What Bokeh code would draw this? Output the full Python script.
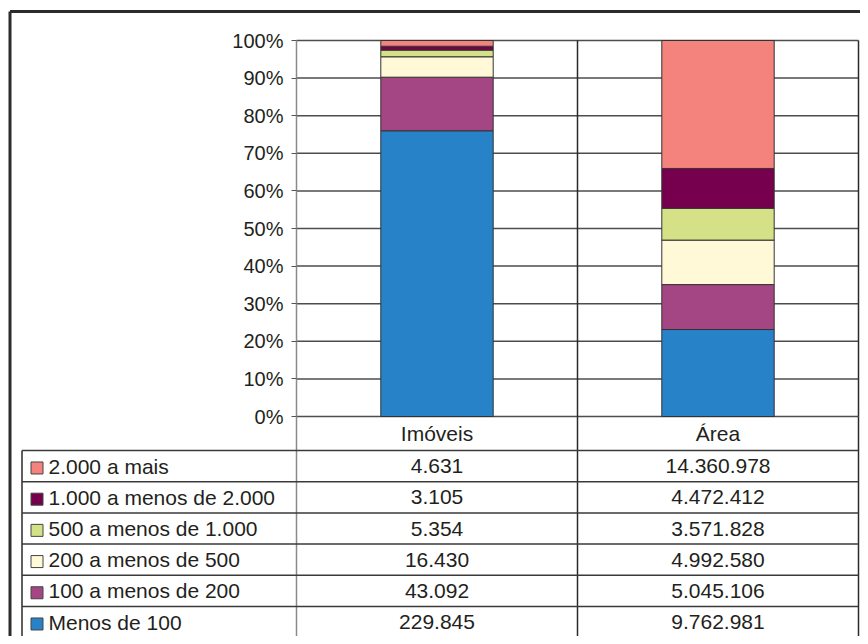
from bokeh.plotting import figure
from bokeh.models import ColumnDataSource, Range1d, LinearAxis, FixedTicker, PrintfTickFormatter
from bokeh.core.properties import value
from bokeh.embed import file_html
from bokeh.resources import INLINE

# ---------------- data ----------------
CATEGORIES = ["Imóveis", "Área"]
SERIES = ["Menos de 100", "100 a menos de 200", "200 a menos de 500",
          "500 a menos de 1.000", "1.000 a menos de 2.000", "2.000 a mais"]
IMOVEIS = [229845, 43092, 16430, 5354, 3105, 4631]
AREA = [9762981, 5045106, 4992580, 3571828, 4472412, 14360978]
COLORS = ["#2882c8", "#a44684", "#fff9d8", "#d4e186", "#76004d", "#f4837d"]
TICKS = [0, 10, 20, 30, 40, 50, 60, 70, 80, 90, 100]

# ---------------- layout (canvas pixels) ----------------
W, H = 860, 636
PLOT_L, CAT_W = 296.0, 281.0
Y0, PX_PCT = 416.0, 3.76
ROW_TOP, ROW_H = 450.0, 31.2
FONT = "Liberation Sans"
TXT = "#231f20"


def fx(px):
    return (px - PLOT_L) / CAT_W


def fy(py):
    return (Y0 - py) / PX_PCT


def ft(py):
    return (ROW_TOP - py) / ROW_H


p = figure(width=W, height=H, output_backend="svg", toolbar_location=None,
           x_axis_type=None, y_axis_type=None,
           x_range=Range1d(fx(0), fx(W)), y_range=Range1d(fy(H), fy(0)),
           min_border=0, outline_line_color=None,
           background_fill_color="white", border_fill_color="white")
p.extra_y_ranges = {"tbl": Range1d(ft(H), ft(0))}

ncat = len(CATEGORIES)
cols = [IMOVEIS, AREA]

# gridlines
p.segment(x0=0, x1=ncat, y0=TICKS, y1=TICKS, line_color="#4d4d4d", line_width=1.5)
# category separators in chart
p.segment(x0=list(range(1, ncat + 1)), x1=list(range(1, ncat + 1)), y0=0, y1=100,
          line_color="#2a2a2a", line_width=1.5)

# stacked bars (percent)
data = {"x": [i + 0.5 for i in range(ncat)]}
keys = []
for k in range(len(SERIES)):
    key = "s%d" % k
    keys.append(key)
    data[key] = [100.0 * cols[c][k] / sum(cols[c]) for c in range(ncat)]
src = ColumnDataSource(data)
p.vbar_stack(keys, x="x", width=0.4, color=COLORS, line_color="#333333",
             line_width=1, source=src)

# y axis
yaxis = LinearAxis(fixed_location=0, bounds=(0, 100),
                   ticker=FixedTicker(ticks=TICKS),
                   formatter=PrintfTickFormatter(format="%d%%"),
                   major_label_text_font_size="20px",
                   major_label_text_font=FONT,
                   major_label_text_color=TXT,
                   major_tick_out=5, major_tick_in=0,
                   major_tick_line_color="#555555",
                   minor_tick_line_color=None,
                   axis_line_color="#8a8a8a", axis_line_width=1.5,
                   major_label_standoff=8)
p.add_layout(yaxis, "left")

# ---------------- table ----------------
nrow = len(SERIES)
hdr_top = ft(Y0)
# vertical lines
p.segment(x0=[0] + list(range(1, ncat + 1)), x1=[0] + list(range(1, ncat + 1)),
          y0=hdr_top, y1=-nrow,
          line_color=["#8a8a8a"] + ["#2a2a2a"] * ncat, line_width=1.5,
          y_range_name="tbl")
p.segment(x0=fx(21.5), x1=fx(21.5), y0=0, y1=-nrow,
          line_color="#2a2a2a", line_width=1.5, y_range_name="tbl")
# horizontal lines
hl = [-r for r in range(nrow + 1)]
p.segment(x0=fx(21.5), x1=ncat, y0=hl, y1=hl, line_color="#3a3a3a",
          line_width=1.5, y_range_name="tbl")

# header labels
p.text(x=[i + 0.5 for i in range(ncat)], y=[ft(433)] * ncat, text=CATEGORIES,
       text_font=value(FONT), text_font_size="21px", text_color=TXT,
       text_align="center", text_baseline="middle", y_range_name="tbl")

rows_series = list(reversed(SERIES))
rows_colors = list(reversed(COLORS))
ycent = [-r - 0.5 for r in range(nrow)]
p.scatter(x=[fx(36.5)] * nrow, y=[y - 0.06 for y in ycent], marker="square",
          size=12, fill_color=rows_colors, line_color="#444444", line_width=1,
          y_range_name="tbl")
p.text(x=[fx(48)] * nrow, y=ycent, text=rows_series,
       text_font=value(FONT), text_font_size="21px", text_color=TXT,
       text_align="left", text_baseline="middle", y_range_name="tbl")


def fmt(v):
    return "{:,}".format(v).replace(",", ".")


for c in range(ncat):
    vals = list(reversed(cols[c]))
    p.text(x=[c + 0.5] * nrow, y=ycent, text=[fmt(v) for v in vals],
           text_font=value(FONT), text_font_size="21px", text_color=TXT,
           text_align="center", text_baseline="middle", y_range_name="tbl")

# outer frame (left and top edges visible)
bx, by = fx(9.5), fy(11)
p.segment(x0=[bx, bx], x1=[bx, ncat + 1], y0=[by, by], y1=[fy(700), by],
          line_color="#2b2b2b", line_width=3)

open("out.html", "w").write(file_html(p, INLINE))
